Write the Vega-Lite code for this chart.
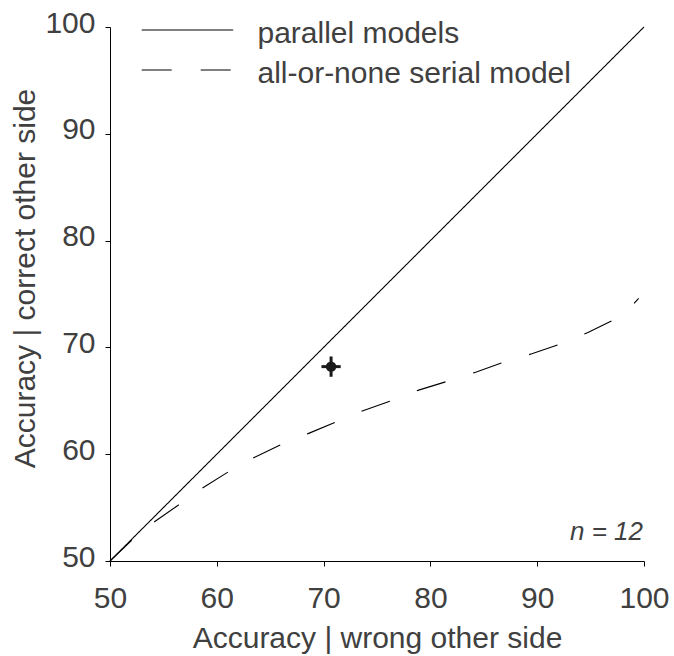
{
  "$schema": "https://vega.github.io/schema/vega-lite/v6.json",
  "autosize": "none",
  "width": 534,
  "height": 534,
  "padding": {"left": 110, "top": 27, "right": 30, "bottom": 95},
  "background": "white",
  "config": {
    "view": {"stroke": null},
    "font": "Liberation Sans",
    "axis": {
      "grid": false,
      "domainColor": "black",
      "domainWidth": 1,
      "tickColor": "black",
      "tickWidth": 1,
      "tickSize": 5,
      "labelFont": "Liberation Sans",
      "labelFontSize": 30,
      "labelColor": "#404040",
      "labelFlush": false,
      "labelOverlap": false,
      "labelBound": false,
      "titleFont": "Liberation Sans",
      "titleFontSize": 30,
      "titleFontWeight": "normal",
      "titleColor": "#404040"
    }
  },
  "datasets": {
    "curves": [
      {"model": "parallel models", "x": 50, "y": 50},
      {"model": "parallel models", "x": 100, "y": 100},
      {"model": "all-or-none serial model", "x": 50, "y": 50},
      {"model": "all-or-none serial model", "x": 52, "y": 51.9},
      {"model": "all-or-none serial model", "x": 54.2, "y": 53.7},
      {"model": "all-or-none serial model", "x": 56.35, "y": 55.2},
      {"model": "all-or-none serial model", "x": 58.7, "y": 56.86},
      {"model": "all-or-none serial model", "x": 61, "y": 58.3},
      {"model": "all-or-none serial model", "x": 63.5, "y": 59.7},
      {"model": "all-or-none serial model", "x": 66, "y": 60.9},
      {"model": "all-or-none serial model", "x": 68.6, "y": 61.95},
      {"model": "all-or-none serial model", "x": 71.1, "y": 63.0},
      {"model": "all-or-none serial model", "x": 73.75, "y": 64.1},
      {"model": "all-or-none serial model", "x": 76.35, "y": 65.0},
      {"model": "all-or-none serial model", "x": 78.9, "y": 66.0},
      {"model": "all-or-none serial model", "x": 81.5, "y": 66.8},
      {"model": "all-or-none serial model", "x": 84.3, "y": 67.7},
      {"model": "all-or-none serial model", "x": 86.8, "y": 68.6},
      {"model": "all-or-none serial model", "x": 89.5, "y": 69.4},
      {"model": "all-or-none serial model", "x": 92.1, "y": 70.3},
      {"model": "all-or-none serial model", "x": 94.75, "y": 71.4},
      {"model": "all-or-none serial model", "x": 97.2, "y": 72.6},
      {"model": "all-or-none serial model", "x": 98.5, "y": 73.5},
      {"model": "all-or-none serial model", "x": 99.5, "y": 74.6}
    ],
    "point": [
      {"x": 70.7, "y": 68.2, "xlo": 69.8, "xhi": 71.6, "ylo": 67.25, "yhi": 69.15}
    ],
    "note": [
      {"x": 100, "y": 52, "label": "n = 12"}
    ]
  },
  "layer": [
    {
      "data": {"name": "curves"},
      "mark": {"type": "line", "color": "black", "strokeWidth": 1.1},
      "encoding": {
        "x": {
          "field": "x", "type": "quantitative",
          "scale": {"domain": [50, 100], "nice": false, "zero": false},
          "axis": {
            "title": "Accuracy | wrong other side",
            "values": [50, 60, 70, 80, 90, 100],
            "labelPadding": 17,
            "titleBaseline": "alphabetic",
            "titleY": 86
          }
        },
        "y": {
          "field": "y", "type": "quantitative",
          "scale": {"domain": [50, 100], "nice": false, "zero": false},
          "axis": {
            "title": "Accuracy | correct other side",
            "values": [50, 60, 70, 80, 90, 100],
            "labelPadding": 10,
            "labelOffset": -4,
            "titleAngle": -90,
            "titleBaseline": "alphabetic",
            "titleAlign": "center",
            "titleX": -76,
            "titleY": 251
          }
        },
        "strokeDash": {
          "field": "model", "type": "nominal",
          "scale": {
            "domain": ["parallel models", "all-or-none serial model"],
            "range": [[1, 0], [30, 29]]
          },
          "legend": {
            "title": null,
            "orient": "none",
            "legendX": 31.7,
            "legendY": -13,
            "direction": "vertical",
            "padding": 0,
            "symbolType": "M-3,0H3",
            "symbolSize": 930,
            "symbolOffset": 29.75,
            "symbolStrokeColor": "black",
            "symbolStrokeWidth": 1.2,
            "symbolFillColor": "transparent",
            "labelOffset": 54,
            "labelFont": "Liberation Sans",
            "labelFontSize": 30,
            "labelColor": "#404040",
            "labelLimit": 600,
            "rowPadding": 5,
            "encode": {"labels": {"update": {"dy": {"value": 4}}}}
          }
        }
      }
    },
    {
      "data": {"name": "point"},
      "mark": {"type": "rule", "color": "#1a1a1a", "strokeWidth": 3},
      "encoding": {
        "x": {"field": "xlo", "type": "quantitative"},
        "x2": {"field": "xhi"},
        "y": {"field": "y", "type": "quantitative"}
      }
    },
    {
      "data": {"name": "point"},
      "mark": {"type": "rule", "color": "#1a1a1a", "strokeWidth": 3},
      "encoding": {
        "x": {"field": "x", "type": "quantitative"},
        "y": {"field": "ylo", "type": "quantitative"},
        "y2": {"field": "yhi"}
      }
    },
    {
      "data": {"name": "point"},
      "mark": {"type": "circle", "color": "#1a1a1a", "size": 110, "opacity": 1},
      "encoding": {
        "x": {"field": "x", "type": "quantitative"},
        "y": {"field": "y", "type": "quantitative"}
      }
    },
    {
      "data": {"name": "note"},
      "mark": {"type": "text", "align": "right", "baseline": "alphabetic", "fontStyle": "italic", "fontSize": 26, "color": "#404040", "dx": -1, "font": "Liberation Sans"},
      "encoding": {
        "x": {"field": "x", "type": "quantitative"},
        "y": {"field": "y", "type": "quantitative"},
        "text": {"field": "label"}
      }
    }
  ]
}
